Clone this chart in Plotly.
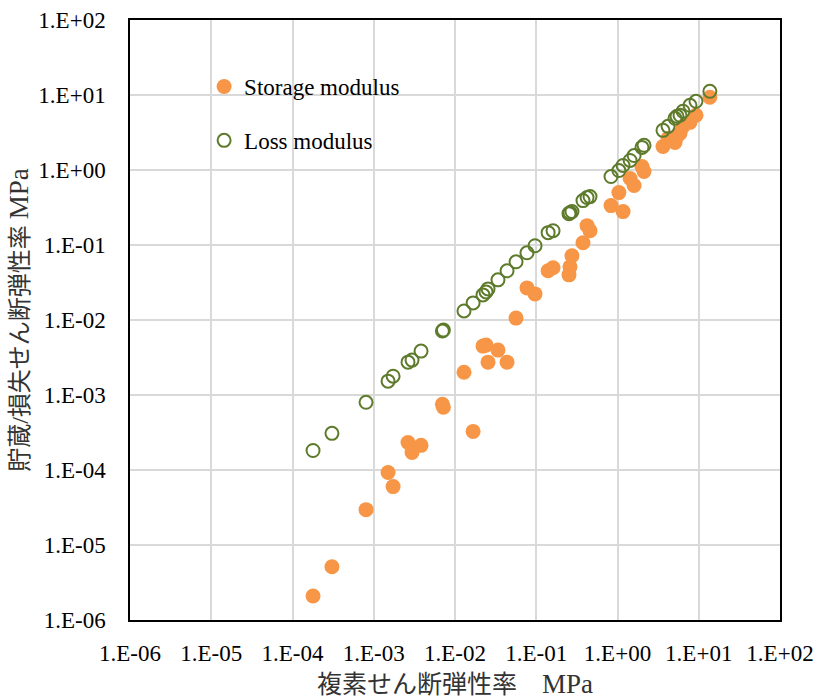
import plotly.graph_objects as go

# complex shear modulus |G*| (MPa)
complex_modulus = [1.79e-4, 3.06e-4, 8.04e-4, 1.50e-3, 1.73e-3, 2.64e-3, 2.96e-3, 3.82e-3,
                   7.0e-3, 7.2e-3, 1.29e-2, 1.67e-2, 2.21e-2, 2.41e-2, 2.55e-2, 3.38e-2,
                   4.37e-2, 5.64e-2, 7.69e-2, 9.66e-2, 0.140, 0.161, 0.253, 0.260, 0.275,
                   0.376, 0.422, 0.459, 0.832, 1.04, 1.17, 1.43, 1.60, 2.00, 2.12, 3.63,
                   4.19, 5.10, 5.40, 5.88, 6.40, 7.80, 9.25, 13.7]
# storage modulus G' (MPa)
storage_modulus = [2.09e-6, 5.12e-6, 2.96e-5, 9.27e-5, 6.01e-5, 2.33e-4, 1.71e-4, 2.13e-4,
                   7.52e-4, 6.86e-4, 2.01e-3, 3.27e-4, 4.49e-3, 4.63e-3, 2.74e-3, 3.97e-3,
                   2.74e-3, 1.06e-2, 2.68e-2, 2.23e-2, 4.53e-2, 4.97e-2, 4.00e-2, 5.12e-2,
                   7.18e-2, 0.107, 0.181, 0.155, 0.335, 0.500, 0.279, 0.769, 0.621, 1.11,
                   0.955, 2.06, 2.64, 2.33, 2.81, 3.08, 3.82, 4.32, 5.36, 9.33]
# loss modulus G'' (MPa)
loss_modulus = [1.82e-4, 3.08e-4, 8.0e-4, 1.53e-3, 1.78e-3, 2.74e-3, 2.92e-3, 3.85e-3,
                7.13e-3, 7.35e-3, 1.32e-2, 1.69e-2, 2.16e-2, 2.37e-2, 2.60e-2, 3.43e-2,
                4.53e-2, 5.97e-2, 7.87e-2, 9.77e-2, 0.146, 0.155, 0.262, 0.270, 0.279,
                0.391, 0.429, 0.442, 0.818, 0.984, 1.15, 1.34, 1.56, 2.00, 2.13, 3.38,
                3.82, 4.89, 5.20, 5.36, 6.07, 7.29, 8.25, 11.2]

tick_vals = [1e-6, 1e-5, 1e-4, 1e-3, 1e-2, 1e-1, 1e0, 1e1, 1e2]
tick_text = ["1.E-06", "1.E-05", "1.E-04", "1.E-03", "1.E-02", "1.E-01", "1.E+00", "1.E+01", "1.E+02"]

ORANGE = "#F79646"
GREEN = "#5E7B2C"
SERIF = "Liberation Serif, Times New Roman, serif"
CJK = "Liberation Serif, Noto Sans CJK JP, serif"

fig = go.Figure()
fig.add_trace(go.Scatter(
    x=complex_modulus, y=storage_modulus, mode="markers", name="Storage modulus",
    legendgroup="a",
    marker=dict(color=ORANGE, size=15, line=dict(width=0)),
))
fig.add_trace(go.Scatter(
    x=complex_modulus, y=loss_modulus, mode="markers", name="Loss modulus",
    legendgroup="b",
    marker=dict(color="rgba(0,0,0,0)", size=13, line=dict(color=GREEN, width=2)),
))

axis_common = dict(
    type="log", tickvals=tick_vals, ticktext=tick_text,
    showgrid=True, gridcolor="#d9d9d9", gridwidth=1.5,
    showline=True, linecolor="black", linewidth=1.5, mirror=True,
    ticks="", zeroline=False,
    tickfont=dict(family=SERIF, size=23, color="black"),
)

fig.update_xaxes(range=[-6, 2],
                 title=dict(text="複素せん断弾性率　<span style='font-size:27px'>MPa</span>",
                            font=dict(family=CJK, size=25, color="#333"), standoff=10),
                 ticklabelstandoff=12, **axis_common)
fig.update_yaxes(range=[-6, 2],
                 title=dict(text="貯蔵/損失せん断弾性率 <span style='font-size:27px'>MPa</span>",
                            font=dict(family=CJK, size=24, color="#333"), standoff=3),
                 ticklabelstandoff=18, **axis_common)

fig.update_layout(
    width=816, height=699,
    margin=dict(l=130, r=36, t=20, b=79, autoexpand=False),
    plot_bgcolor="white", paper_bgcolor="white",
    showlegend=True,
    legend=dict(x=0.114, y=0.925, xanchor="left", yanchor="top",
                bgcolor="rgba(0,0,0,0)", tracegroupgap=21,
                font=dict(family=SERIF, size=23, color="black"),
                itemsizing="trace"),
)

fig.write_html("out.html")
